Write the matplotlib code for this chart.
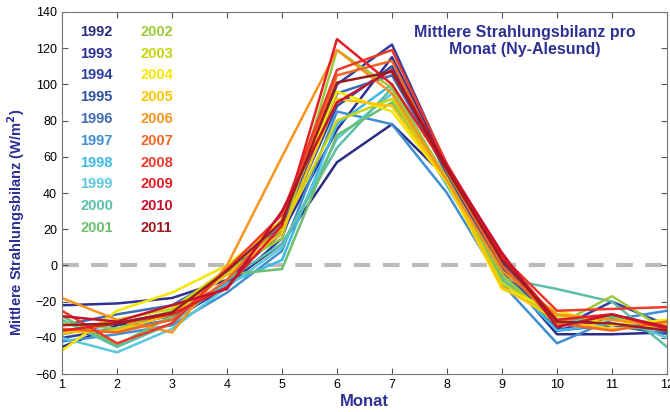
import numpy as np
import matplotlib.pyplot as plt

months = np.arange(1, 13)
years = [str(y) for y in range(1992, 2012)]

colors = ['#2b2d84', '#2e3192', '#2f3f9e', '#30509f', '#3c6cb6', '#3f8fd2',
          '#3fb8e8', '#5cc6dc', '#5bbfa9', '#6bbf6f', '#9cc93c', '#c8d40a',
          '#f7e600', '#ffc400', '#f7941d', '#f26522', '#ed3a2a', '#e31e24',
          '#c8102e', '#9e1b20']

# monthly mean radiation balance (W/m^2)
values = [
    [-45, -33, -28, -10, 12, 57, 78, 48, -3, -38, -38, -37],
    [-22, -21, -18, -8, 18, 75, 115, 55, 2, -36, -28, -34],
    [-40, -35, -30, -12, 15, 100, 122, 55, 0, -35, -20, -33],
    [-38, -32, -26, -10, 20, 88, 110, 50, -2, -33, -29, -36],
    [-33, -27, -22, -5, 22, 95, 105, 52, 3, -36, -33, -38],
    [-42, -38, -33, -15, 8, 85, 78, 40, -10, -43, -30, -25],
    [-36, -36, -30, -10, 3, 78, 100, 46, -5, -36, -32, -36],
    [-40, -48, -35, -12, 10, 70, 95, 44, -6, -32, -28, -40],
    [-30, -45, -32, -8, 12, 65, 98, 45, -7, -13, -20, -45],
    [-28, -44, -28, -5, -2, 72, 90, 45, -8, -30, -28, -36],
    [-32, -35, -25, -3, 15, 119, 98, 48, -5, -33, -17, -36],
    [-38, -30, -24, -2, 20, 80, 92, 48, -10, -28, -30, -32],
    [-47, -25, -15, 0, 25, 96, 85, 46, -13, -25, -33, -30],
    [-37, -36, -27, -5, 18, 92, 88, 47, -12, -30, -35, -33],
    [-18, -30, -37, 0, 60, 119, 95, 47, -3, -27, -30, -34],
    [-35, -37, -30, -8, 25, 105, 113, 52, 0, -32, -36, -31],
    [-25, -43, -32, -2, 28, 108, 119, 56, 5, -25, -24, -23],
    [-36, -32, -27, -12, 22, 125, 100, 53, 5, -30, -27, -35],
    [-28, -31, -22, -13, 30, 90, 108, 55, 7, -34, -27, -34],
    [-33, -32, -26, -3, 24, 101, 107, 53, 3, -31, -32, -36],
]

blue = '#2e3192'
plt.rcParams['font.family'] = ['Liberation Sans', 'DejaVu Sans']

fig = plt.figure(figsize=(6.7, 4.12), dpi=100)
ax = fig.add_axes([0.0925, 0.092, 0.903, 0.879])

ax.axhline(0, color='#bbbbbb', lw=3, ls=(0, (4, 3)), zorder=1)
for c, v in zip(colors, values):
    ax.plot(months, v, color=c, lw=1.8, zorder=2)

ax.set_xlim(1, 12)
ax.set_ylim(-60, 140)
ax.set_xticks(months)
ax.set_yticks(np.arange(-60, 141, 20))
ax.tick_params(direction='in', top=True, right=True, labelsize=9, length=4, color='#555555')
for s in ax.spines.values():
    s.set_color('#777777')

# year labels as a text legend in two columns
for i, (y, c) in enumerate(zip(years, colors)):
    col, row = divmod(i, 10)
    ax.text(0.03 + col * 0.1, 0.945 - row * 0.0602, y, color=c, fontsize=10.5,
            fontweight='bold', transform=ax.transAxes, va='center')

ax.text(0.765, 0.92, 'Mittlere Strahlungsbilanz pro\nMonat (Ny-Alesund)', color=blue,
        fontsize=11.5, fontweight='bold', ha='center', va='center',
        transform=ax.transAxes, linespacing=1.15)

ax.set_xlabel('Monat', color=blue, fontsize=12, fontweight='bold', labelpad=2)
ax.set_ylabel('Mittlere Strahlungsbilanz (W/m$^\\mathbf{2}$)', color=blue, fontsize=10.5,
              fontweight='bold')
ax.yaxis.set_label_coords(-0.058, 0.42)

fig.savefig('out.png')
